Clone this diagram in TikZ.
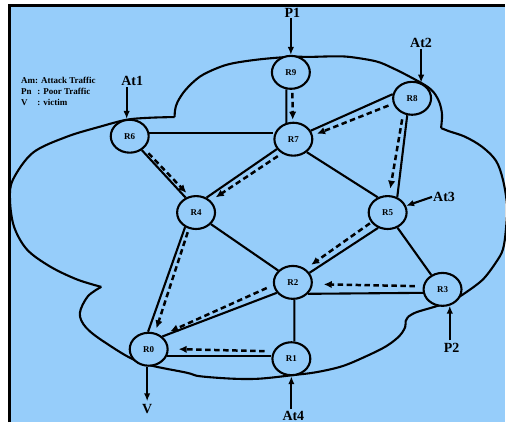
\documentclass[tikz,border=0pt]{standalone}
\usepackage{fontspec}
\setmainfont{Liberation Serif}
\usetikzlibrary{shapes.geometric,arrows.meta,calc}
\definecolor{sky}{RGB}{150,205,250}

\begin{document}
\begin{tikzpicture}[x=1pt,y=-1pt,
  router/.style={ellipse, draw, line width=2.1pt, fill=sky,
    minimum width=38pt, minimum height=33pt, inner sep=0pt,
    font=\fontsize{9}{10}\selectfont\bfseries},
  link/.style={line width=2.1pt},
  flow/.style={line width=2.5pt, dash pattern=on 5.5pt off 3.5pt,
    -{Latex[length=8pt,width=7.5pt]}},
  feed/.style={line width=2.1pt, -{Latex[length=8pt,width=6.5pt]}},
  tag/.style={font=\fontsize{14}{16}\selectfont\bfseries, inner sep=0pt},
  cloudline/.style={line width=2.1pt, line join=round},
]
% page, panel and its frame
\fill[white] (0,0) rectangle (506,423);
\fill[sky] (9.5,5.5) rectangle (506,423);
\draw[line width=2.2pt] (9.5,423) -- (9.5,5.5) -- (506,5.5);
\useasboundingbox (0,0) rectangle (506,423);

% network cloud outline
\draw[cloudline] plot[smooth, tension=0.55] coordinates {
  (101.5,287.5) (77,280) (50,267) (27,250) (14,227) (10,200) (13,180)
  (33,153) (67,137) (100,127) (127,120) (150,118) (175,117.3)};
\draw[cloudline] plot[smooth, tension=0.55] coordinates {
  (175,117.3) (175.5,110) (178,102) (186,90) (200,77) (217,68.5)
  (233,63.5) (260,59.5) (290,57) (311,57) (333,56.5) (350,57) (377,61.5)
  (393,68) (410,76.5) (427,86) (435,93) (440.5,103) (443,115) (442,128.3)};
\draw[cloudline] plot[smooth, tension=0.55] coordinates {
  (442,128.3) (450,131.5) (466,137) (483,147) (497,161) (504,180)
  (508,205) (507,230) (504,250) (497,263) (484,280) (467,293)
  (453,301.5) (437,307) (417,313) (409,317.5)};
\draw[cloudline] plot[smooth, tension=0.55] coordinates {
  (409,317.5) (406.5,322) (406,328) (400,337) (387,347) (367,357)
  (343,367) (317,373) (293,376) (260,379.5) (233,379.5) (200,377)
  (187,373.5) (140,363) (105,343) (86,328) (80,314) (88,297) (101.5,287.5)};

% routers
\node[router] (R9) at (291.5,72.5) {R9};
\node[router] (R8) at (413,98.5) {R8};
\node[router] (R7) at (294,139.5) {R7};
\node[router] (R6) at (130,136.5) {R6};
\node[router] (R4) at (196.5,213) {R4};
\node[router] (R5) at (388.5,213) {R5};
\node[router] (R2) at (293.5,283) {R2};
\node[router] (R3) at (443.5,290) {R3};
\node[router] (R1) at (292,359.5) {R1};
\node[router] (R0) at (149,350) {R0};

% physical links
\draw[link] (R9.-105) -- (R7.113);
\draw[link] (R6.8) -- (R6.8 -| R7.west);
\draw[link] (R8.168) -- (R7.26);
\draw[link] (R8.254) -- (R5.58);
\draw[link] (R6.-49) -- (R4.125);
\draw[link] (R7.211) -- (R4.55);
\draw[link] (R7.-44) -- (R5.123);
\draw[link] (R4.-38) -- (R2.141);
\draw[link] (R5.238) -- (R2.30);
\draw[link] (R5.-57) -- (R3.128);
\draw[link] (R3.190) -- (R2.-37);
\draw[link] (R2.-85) -- (R1.80);
\draw[link] (R2.213) -- (R0.43);
\draw[link] (R4.233) -- (R0.92);
\draw[link] (R0.-20) -- (R0.-20 -| R1.west);

% traffic flows towards the victim
\draw[flow, shorten <=3pt, shorten >=2pt] (R9.-85) -- (R7.92);
\draw[flow, shorten <=5pt, shorten >=4.5pt] (R8.196) -- (R7.11);
\draw[flow, shorten <=5.5pt, shorten >=6.5pt] (R8.240) -- (R5.85);
\draw[flow, shorten <=6.5pt, shorten >=4.5pt] (R6.-41.5) -- (R4.112.6);
\draw[flow, shorten <=4.8pt, shorten >=6pt] (R7.231) -- (R4.39);
\draw[flow, shorten <=1.5pt, shorten >=7pt] (R5.211.5) -- (R2.47.5);
\draw[flow, shorten <=8pt, shorten >=11pt] (R3.171.5) -- (R2.-5.7);
\draw[flow, shorten <=7pt, shorten >=10pt] (R2.188) -- (R0.48);
\draw[flow, shorten <=3.5pt, shorten >=4.5pt] (R4.246) -- (R0.69);
\draw[flow, shorten <=8.7pt, shorten >=10pt] (R1.158) -- (R0.1.4);

% sources and the victim
\node[tag] (P1) at (293,12.5) {P1};
\draw[feed, shorten <=1pt] (P1.south -| R9.north) -- (R9.north);
\node[tag] (At2) at (422,43) {At2};
\draw[feed, shorten <=1pt] (At2.south -| R8.60) -- (R8.60);
\node[tag] (At1) at (132.5,81) {At1};
\draw[feed, shorten <=1.5pt] (At1.south -| R6.100) -- (R6.100);
\node[tag] (At3) at (445,197) {At3};
\draw[feed, shorten <=1pt] (At3.west) -- (R5.20);
\node[tag] (P2) at (452.5,349) {P2};
\draw[feed, shorten <=3pt] (P2.north -| R3.-66) -- (R3.-66);
\node[tag] (At4) at (294,417) {At4};
\draw[feed, shorten <=2pt] (At4.north -| R1.south) -- (R1.south);
\node[tag] (V) at (147.5,410) {V};
\draw[feed, shorten >=3pt] (R0.-95) -- (R0.-95 |- V.north);

% legend
\node[anchor=north west, inner sep=0pt,
  font=\fontsize{9}{11}\selectfont\bfseries] (key) at (21,76)
  {\begin{tabular}{@{}l@{}l@{}}Am&: Attack Traffic\\ Pn&\ : Poor Traffic\\ V&\ : victim\end{tabular}};
\end{tikzpicture}
\end{document}
